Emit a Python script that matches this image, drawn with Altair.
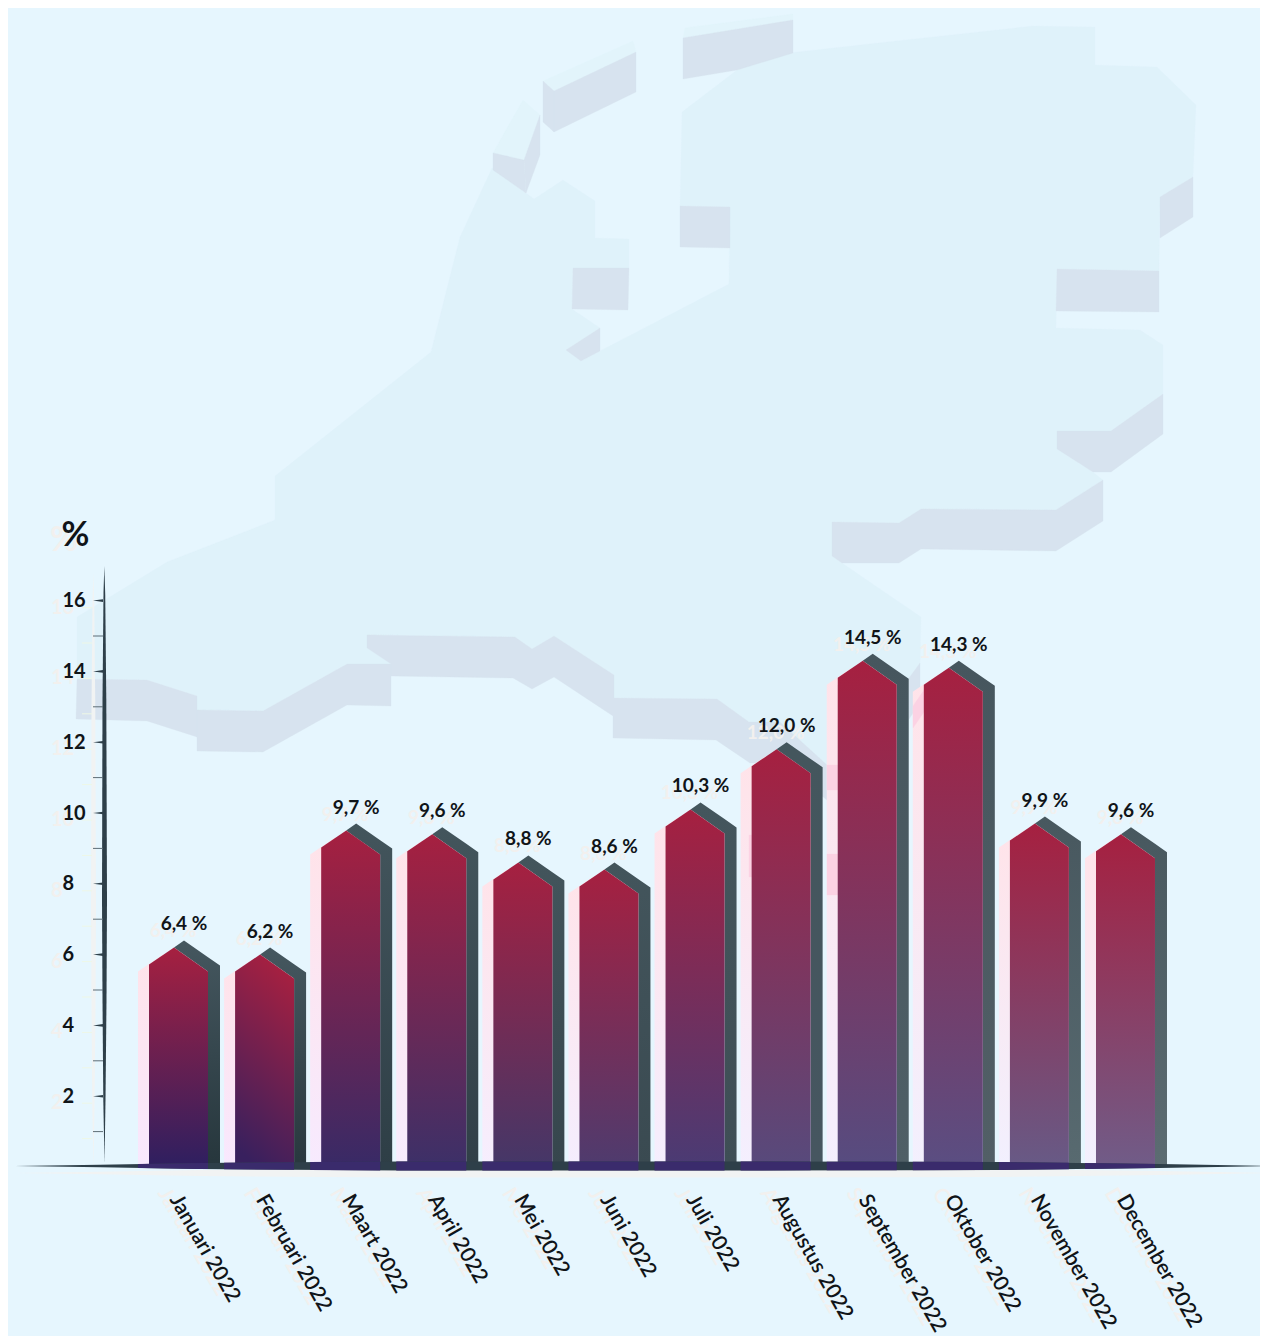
import json
import numpy as np
import pandas as pd
import altair as alt

months = ["Januari 2022", "Februari 2022", "Maart 2022", "April 2022", "Mei 2022", "Juni 2022",
          "Juli 2022", "Augustus 2022", "September 2022", "Oktober 2022", "November 2022", "December 2022"]
values = [6.4, 6.2, 9.7, 9.6, 8.8, 8.6, 10.3, 12.0, 14.5, 14.3, 9.9, 9.6]
y_ticks_major = [2, 4, 6, 8, 10, 12, 14, 16]
y_ticks_minor = [1, 3, 5, 7, 9, 11, 13, 15]

front_bottom = ["#2e1f60", "#38205e", "#382a66", "#3c3068", "#443768", "#4e3b6e",
                "#4a3b74", "#574a7c", "#564c80", "#5a4e82", "#675a86", "#705c88"]
side_top = ["#45575f", "#45575f", "#43555c", "#43555c", "#43555c", "#43555c",
            "#44565d", "#44565d", "#46565e", "#46565e", "#48585f", "#48585f"]
side_bottom = ["#26363c", "#28383e", "#2e3e46", "#303f47", "#36464d", "#3a4a51",
               "#3e4e55", "#465660", "#4f5f66", "#525f66", "#586a70", "#5c6c72"]
ghost_bottom = ["#f8e8fe", "#f8e8fe", "#f7eafe", "#f7ecfe", "#f6eefe", "#f5eefe",
                "#f5eefe", "#f4effe", "#f4effe", "#f3f0fe", "#f2f0fe", "#f2f0fe"]

BG = "#e6f6fe"
FONT = "Lato"
INK = "#101418"
PX, PY = 86.09, 35.4
W, H = 1252, 1328
X_FONT = 21
X_ANGLE = 60
NUM_FONT = 19


def U(px):
    return (px - 174) / PX


def V(py):
    return (1167 - py) / PY


x_scale = alt.Scale(domain=[U(8), U(8 + W)], nice=False, zero=False)
y_scale = alt.Scale(domain=[V(8 + H), V(8)], nice=False, zero=False)

x_axis = alt.Axis(values=list(range(12)), labelExpr=json.dumps(months) + "[datum.value]",
                  labelAngle=X_ANGLE, labelAlign="left", labelBaseline="middle", domain=False, ticks=False,
                  grid=False, title=None, offset=-140, labelPadding=0, labelOverlap=False, labelBound=False,
                  labelFlush=False, labelOffset=0, labelFont=FONT, labelFontSize=X_FONT, labelFontWeight=600,
                  labelColor=INK, zindex=1)
y_axis = alt.Axis(values=y_ticks_major, labelAlign="left", labelBaseline="middle", domain=False, ticks=False,
                  grid=False, title="%", titleAngle=0, titleX=13, titleY=527, titleAlign="center",
                  titleBaseline="middle", titleFont=FONT, titleFontSize=34, titleFontWeight=700, titleColor=INK,
                  offset=-54, labelPadding=0, labelOverlap=False, labelBound=False, labelFlush=False,
                  labelFont=FONT, labelFontSize=20, labelFontWeight=700, labelColor=INK, zindex=1)


def X(f="x"):
    return alt.X(f + ":Q", scale=x_scale, axis=x_axis)


def Y(f="y"):
    return alt.Y(f + ":Q", scale=y_scale, axis=y_axis)


def feat(points):
    return {"type": "Feature", "properties": {},
            "geometry": {"type": "Polygon", "coordinates": [[list(p) for p in points + points[:1]]]}}


map_top = [
    [(77, 617), (167, 562), (275, 520), (275, 476), (431, 352), (460, 237), (492, 168), (534, 199), (563, 180),
     (595, 201), (595, 238), (629, 239), (629, 268), (573, 268), (572, 309), (600, 328), (566, 350), (581, 361),
     (600, 351), (729, 284), (730, 207), (680, 206), (682, 112), (754, 57), (860, 45), (1033, 26), (1095, 27),
     (1095, 65), (1157, 67), (1196, 105), (1193, 177), (1160, 197), (1159, 271), (1057, 269), (1056, 328),
     (1140, 330), (1163, 345), (1163, 394), (1111, 431), (1057, 431), (1057, 449), (1093, 472), (1103, 480),
     (1056, 510), (921, 509), (899, 523), (832, 522), (832, 556), (842, 563), (921, 617), (920, 663), (909, 678),
     (838, 790), (827, 765), (780, 722), (749, 722), (717, 699), (614, 698), (614, 675), (554, 636), (532, 649),
     (515, 637), (367, 635), (367, 648), (391, 664), (347, 664), (263, 711), (197, 710), (197, 696), (147, 680),
     (77, 679)],
]
island_top = [
    [(543, 81), (633, 41), (636, 52), (554, 91)],
    [(685, 28), (793, 14), (793, 20), (683, 38)],
    [(493, 153), (523, 100), (540, 115), (524, 160)],
]
map_side = [
    [(77, 679), (147, 680), (197, 696), (197, 737), (147, 721), (76, 719)],
    [(197, 710), (263, 711), (347, 664), (391, 664), (391, 706), (347, 705), (263, 752), (197, 751)],
    [(367, 635), (515, 637), (532, 649), (554, 636), (614, 675), (614, 698), (717, 699), (749, 722), (780, 722),
     (827, 765), (827, 800), (780, 763), (750, 763), (716, 740), (613, 738), (613, 716), (554, 677), (532, 689),
     (513, 678), (391, 676), (391, 664), (367, 648)],
    [(680, 206), (730, 207), (730, 248), (680, 247)],
    [(573, 268), (629, 268), (628, 310), (572, 309)],
    [(566, 350), (600, 328), (600, 351), (581, 361)],
    [(1160, 197), (1193, 177), (1193, 217), (1160, 238)],
    [(1057, 269), (1159, 271), (1159, 312), (1056, 311)],
    [(1057, 431), (1111, 431), (1163, 394), (1163, 434), (1111, 472), (1093, 472), (1057, 449)],
    [(832, 522), (899, 523), (921, 509), (1056, 510), (1103, 480), (1103, 521), (1056, 551), (921, 549), (899, 563),
     (842, 563), (832, 556)],
    [(920, 663), (909, 678), (909, 719), (920, 703)],
    [(543, 81), (554, 91), (554, 132), (543, 122)],
    [(554, 91), (636, 52), (636, 92), (554, 132)],
    [(683, 38), (793, 20), (793, 53), (737, 70), (683, 79)],
    [(493, 153), (524, 160), (526, 193), (493, 170)],
    [(524, 160), (540, 115), (540, 155), (526, 193)],
]
ghost_patches = [
    [(827, 765), (838, 765), (838, 790), (827, 790)],
    [(827, 854), (838, 854), (838, 895), (827, 895)],
    [(749, 835), (753, 835), (753, 877), (749, 877)],
    [(913, 706), (924, 690), (924, 712), (913, 728)],
]

identity = dict(type="identity", scale=1, translate=[-8, -8])


def geo(polys, fill):
    return (alt.Chart(alt.Data(values=[feat(p) for p in polys]))
            .mark_geoshape(fill=fill, stroke=fill, strokeWidth=0.3)
            .project(**identity))


def grad(top, bottom, x1=0, x2=0):
    return alt.Gradient(gradient="linear", x1=x1, x2=x2, y1=0, y2=1,
                        stops=[alt.GradientStop(color=top, offset=0), alt.GradientStop(color=bottom, offset=1)])


def area(rows, fill):
    df = pd.DataFrame(rows, columns=["x", "y", "y2"])
    return alt.Chart(df).mark_area(fill=fill).encode(x=X(), y=Y(), y2="y2:Q")


def poly_front(i, v, dx=0.0, dy=0.0, base=0.0):
    sx, sy = dx / PX, dy / PY
    return [(i - 25 / PX + sx, v - 24 / PY - sy, base),
            (i + sx, v - 7 / PY - sy, base),
            (i + 34 / PX + sx, v - 31 / PY - sy, base)]


def poly_side(i, v, base=0.0):
    return [(i, v - 7 / PY, v - 7 / PY),
            (i + 10 / PX, v, v - 14.06 / PY),
            (i + 34 / PX, v - 16.7 / PY, v - 31 / PY),
            (i + 34.01 / PX, v - 16.7 / PY, base),
            (i + 46 / PX, v - 25 / PY, base)]


# horizontal needle half thickness along its length
nx = [15, 100, 200, 400, 900, 1000, 1160, 1268]
nh = [0.0, 1.2, 3.0, 4.6, 4.3, 4.0, 2.0, 0.0]
NY = 1166


def needle_rows(x0, x1, dy=0.0):
    xs = [x0] + [p for p in nx if x0 < p < x1] + [x1]
    return [(U(x), V(NY + dy - float(np.interp(x, nx, nh))), V(NY + dy + float(np.interp(x, nx, nh))))
            for x in xs]


# vertical needle
vy = [566, 593, 700, 900, 1000, 1100, 1163]
vl = [104.3, 103.5, 102.5, 102.0, 102.5, 103.3, 104.5]
vr = [104.3, 105.2, 106.3, 107.0, 106.5, 105.5, 104.5]


def vneedle(dx, dy, colour):
    df = pd.DataFrame({"y": [V(p + dy) for p in vy],
                       "x": [U(p + dx) for p in vl], "x2": [U(p + dx) for p in vr]})
    return alt.Chart(df).mark_area(orient="horizontal", fill=colour).encode(y=Y(), x=X(), x2="x2:Q")


def ticks_rule(vals, x0, x1, colour, **kw):
    df = pd.DataFrame({"y": vals, "x": [U(x0)] * len(vals), "x2": [U(x1)] * len(vals)})
    return alt.Chart(df).mark_rule(color=colour, size=1, **kw).encode(x=X(), x2="x2:Q", y=Y())


layers = [geo(map_top, "#dff2fa"), geo(island_top, "#e2f4fb"), geo(map_side, "#d7e3ef")]

# pale offset shadows of axes
GHOST = "#f1f3f3"
layers.append(vneedle(-11, 7, GHOST))
layers.append(area(needle_rows(15, 1268, dy=7), GHOST))
layers.append(ticks_rule(y_ticks_major + y_ticks_minor, 82, 92, "#eef7e6", yOffset=7))

# pale bar shadows
for i, v in enumerate(values):
    layers.append(area(poly_front(i, v, dx=-11, dy=7), grad("#ffe3e9", ghost_bottom[i])))
layers.append(geo(ghost_patches, "#fcd2e3"))

# y axis needle and ticks
layers.append(vneedle(0, 0, "#2e3f49"))
layers.append(ticks_rule(y_ticks_minor, 93, 103, "#5d6d76"))
tick_rows = []
for t in y_ticks_major:
    tick_rows += [(t, U(93), t, t), (t, U(103), t + 1.3 / PY, t - 1.3 / PY)]
tick_df = pd.DataFrame(tick_rows, columns=["t", "x", "y", "y2"])
layers.append(alt.Chart(tick_df).mark_area(fill="#2e3f49").encode(x=X(), y=Y(), y2="y2:Q", detail="t:N"))

# bars
for i, v in enumerate(values):
    layers.append(area(poly_side(i, v), grad(side_top[i], side_bottom[i])))
    if i == 1:
        fill = grad("#a82040", front_bottom[i], x1=0.62, x2=0.38)
    else:
        fill = grad("#a62040", front_bottom[i])
    layers.append(area(poly_front(i, v), fill))

# x axis needle, navy where the bars meet it
layers.append(area(needle_rows(15, 1268), "#2e3f49"))
for i in range(12):
    x_left = 174 + i * PX - 36
    x_right = 174 + i * PX + 34
    layers.append(area(needle_rows(x_left, x_right), "#3a2b6c"))

GHOST_TEXT = "#f2f0ee"
num_df = pd.DataFrame({"x": range(12), "y": values,
                       "t": [f"{v:.1f}".replace(".", ",") + " %" for v in values]})
txt = dict(font=FONT, fontSize=NUM_FONT, fontWeight=700, align="center", baseline="middle")
layers.append(alt.Chart(num_df).mark_text(color=GHOST_TEXT, dx=10 - 11, dy=-16 + 7, **txt)
              .encode(x=X(), y=Y(), text="t:N"))
layers.append(alt.Chart(num_df).mark_text(color=INK, dx=10, dy=-16, **txt)
              .encode(x=X(), y=Y(), text="t:N"))

# pale shadows of axis labels
y_ghost = pd.DataFrame({"y": y_ticks_major, "x": [U(51)] * len(y_ticks_major)})
layers.append(alt.Chart(y_ghost).mark_text(color=GHOST_TEXT, font=FONT, fontSize=20, fontWeight=700, align="left",
                                           baseline="middle", dy=7)
              .encode(x=X(), y=Y(), text="y:Q"))
x_ghost = pd.DataFrame({"x": range(12), "y": [V(1196)] * 12, "m": months})
layers.append(alt.Chart(x_ghost).mark_text(color=GHOST_TEXT, font=FONT, fontSize=X_FONT, fontWeight=600, align="left",
                                           baseline="middle", angle=X_ANGLE, dx=-11, dy=7)
              .encode(x=X(), y=Y(), text="m:N"))
pct = pd.DataFrame({"x": [U(64)], "y": [V(541)], "t": ["%"]})
layers.append(alt.Chart(pct).mark_text(color=GHOST_TEXT, font=FONT, fontSize=34, fontWeight=700)
              .encode(x=X(), y=Y(), text="t:N"))

chart = (alt.layer(*layers)
         .properties(width=W, height=H, padding=0, autosize=alt.AutoSizeParams(type="none"), background=BG)
         .configure_view(stroke=None))

chart.save("out.html", embed_options={"renderer": "svg", "actions": False})
